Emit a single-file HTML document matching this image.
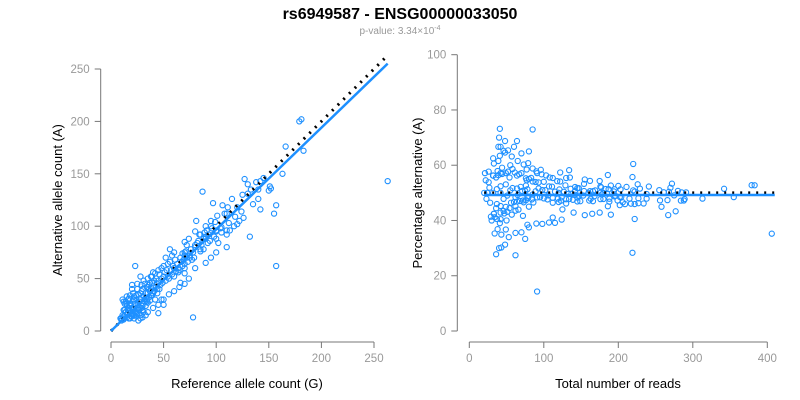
<!DOCTYPE html>
<html><head><meta charset="utf-8"><style>
body{margin:0;background:#fff;}
svg{display:block;font-family:"Liberation Sans",Arial,sans-serif;}
</style></head><body>
<svg id="chart" width="800" height="400" viewBox="0 0 800 400">
<text x="400" y="19" text-anchor="middle" font-size="16" font-weight="bold" fill="#000">rs6949587 - ENSG00000033050</text>
<text x="400" y="34" text-anchor="middle" font-size="10" fill="#999">p-value: 3.34×10<tspan dy="-4" font-size="7">-4</tspan></text>
<g id="left"></g>
<g id="right"></g>
<text x="247" y="388" text-anchor="middle" font-size="13" fill="#000">Reference allele count (G)</text>
<text transform="translate(62,200) rotate(-90)" text-anchor="middle" font-size="13" fill="#000">Alternative allele count (A)</text>
<text x="618" y="388" text-anchor="middle" font-size="13" fill="#000">Total number of reads</text>
<text transform="translate(422,193) rotate(-90)" text-anchor="middle" font-size="13" fill="#000">Percentage alternative (A)</text>
</svg>
<script>
const ref = [10,11,12,12,13,14,14,15,15,16,16,17,17,18,18,19,19,20,20,21,21,22,22,23,23,24,24,25,25,26,26,27,27,28,28,29,29,30,30,31,31,32,32,33,33,34,34,35,35,36,36,37,37,38,38,39,39,40,40,41,41,42,42,43,43,44,44,45,45,46,46,47,48,48,49,50,50,51,52,52,53,54,54,55,56,56,57,58,58,59,60,61,62,63,64,65,66,67,68,68,69,70,70,71,72,72,73,74,74,75,76,77,78,79,80,81,82,83,84,85,86,87,88,88,89,90,90,91,92,93,94,95,96,97,98,99,100,101,102,104,105,106,108,110,111,112,113,115,117,118,120,122,124,126,127,130,132,133,135,138,140,142,142,145,150,151,152,155,157,157,163,166,179,181,183,263,10,12,14,16,18,20,22,24,26,28,30,32,34,36,38,40,13,15,17,19,21,23,25,27,29,31,33,35,37,39,24,45,78,20,28,11,13,15,9,12,35,44,60,64,66,70,85,95,100,110,26,28,30,24,33,22,35,40,45,50,55,60,65,70,30,20,25,18,50,48,60,70,80,90,100,110,120,95,85,75,105,125,130,140,90,100,80,110,70,60,70,80,14,16,18,20,22,12];
const alt = [12,15,11,20,14,18,28,13,24,16,30,12,22,19,34,14,25,17,40,21,28,15,33,19,62,22,30,16,45,25,35,20,28,30,15,22,38,26,40,18,33,28,45,24,36,30,42,27,50,32,44,29,38,40,52,34,46,36,56,38,48,30,55,42,50,45,36,48,58,40,54,44,50,60,46,52,62,56,48,70,58,52,64,50,66,78,58,54,72,62,60,68,57,64,60,58,70,66,62,74,68,72,60,76,70,82,66,50,88,72,78,68,75,70,80,105,84,86,92,76,82,133,88,78,94,90,100,96,84,92,86,100,98,122,90,104,96,110,84,98,94,120,112,92,118,103,96,126,100,109,102,105,114,108,145,131,90,135,121,142,126,143,116,146,134,138,136,112,62,120,150,176,200,202,172,143,10,12,18,22,26,16,30,34,20,36,24,30,28,40,34,38,20,26,31,14,36,26,40,22,44,48,32,42,46,52,18,17,13,44,52,30,26,33,12,28,36,40,52,56,46,64,92,70,88,96,10,12,13,14,15,12,18,22,25,30,35,38,42,45,20,14,17,12,25,30,60,75,82,88,95,112,118,105,78,70,99,130,140,135,65,75,60,80,55,75,85,95,18,20,24,22,30,14];

const lx0=111, lxs=(374-111)/250, ly0=331, lys=(331-69)/250;
const rx0=469.3, rxs=(767.3-469.3)/400, ry0=331, rys=(331-54.7)/100;
const lX=v=>lx0+v*lxs, lY=v=>ly0-v*lys, rX=v=>rx0+v*rxs, rY=v=>ry0-v*rys;
const leftTicksX=[0,50,100,150,200,250], leftTicksY=[0,50,100,150,200,250];
const rightTicksX=[0,100,200,300,400], rightTicksY=[0,20,40,60,80,100];
const leftFitSlope=0.97, rightFitPct=49.2, nullPct=50;
const NS="http://www.w3.org/2000/svg";
function mk(parent,tag,attrs){const e=document.createElementNS(NS,tag);for(const k in attrs)e.setAttribute(k,attrs[k]);parent.appendChild(e);return e;}
const L=document.getElementById('left'), R=document.getElementById('right');
function axes(g,xt,yt,X,Y,xAxisY,yAxisX,pfx){
  let a=mk(g,'line',{x1:X(xt[0]),x2:X(xt[xt.length-1]),y1:xAxisY,y2:xAxisY,stroke:'#777'});
  
  
  xt.forEach(t=>{const l=mk(g,'line',{x1:X(t),x2:X(t),y1:xAxisY,y2:xAxisY+6,stroke:'#777'});
    
    
    const s=mk(g,'text',{x:X(t),y:xAxisY+20,'text-anchor':'middle','font-size':11.5,fill:'#999'});s.textContent=t;
    
    });
  let b=mk(g,'line',{x1:yAxisX,x2:yAxisX,y1:Y(yt[0]),y2:Y(yt[yt.length-1]),stroke:'#777'});
  
  
  yt.forEach(t=>{const l=mk(g,'line',{x1:yAxisX-6,x2:yAxisX,y1:Y(t),y2:Y(t),stroke:'#777'});
    
    
    const s=mk(g,'text',{x:yAxisX-11,y:Y(t)+4,'text-anchor':'end','font-size':11.5,fill:'#999'});s.textContent=t;
    
    });
}
axes(L,leftTicksX,leftTicksY,lX,lY,342,100.7,'left');
axes(R,rightTicksX,rightTicksY,rX,rY,342,457.3,'right');
for(let i=0;i<ref.length;i++){
  const c=mk(L,'circle',{cx:lX(ref[i]),cy:lY(alt[i]),r:2.6,fill:'none',stroke:'#1e90ff','stroke-width':1.1});
  
  
  const tot=ref[i]+alt[i], pct=alt[i]/tot*100;
  const d=mk(R,'circle',{cx:rX(tot),cy:rY(pct),r:2.6,fill:'none',stroke:'#1e90ff','stroke-width':1.1});
  
  
}
const lmax=Math.max(...ref);
let n1=mk(L,'line',{x1:lX(0),y1:lY(0),x2:lX(262),y2:lY(262),stroke:'#000','stroke-width':3,'stroke-dasharray':'2 6'});


let f1=mk(L,'line',{x1:lX(0),y1:lY(0),x2:lX(lmax),y2:lY(lmax*leftFitSlope),stroke:'#1e90ff','stroke-width':2.5});


let n2=mk(R,'line',{x1:rX(20),y1:rY(nullPct),x2:rX(410),y2:rY(nullPct),stroke:'#000','stroke-width':3,'stroke-dasharray':'2 6'});


let f2=mk(R,'line',{x1:rX(20),y1:rY(rightFitPct),x2:rX(410),y2:rY(rightFitPct),stroke:'#1e90ff','stroke-width':2.5});


</script>
</body></html>
